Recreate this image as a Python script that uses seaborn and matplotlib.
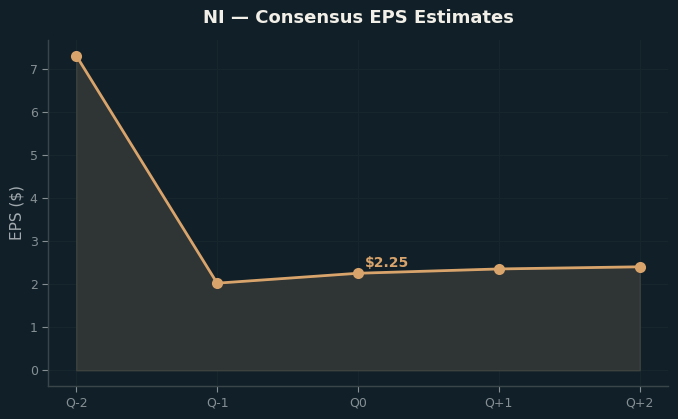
import matplotlib
matplotlib.use("Agg")
import matplotlib.pyplot as plt
import seaborn as sns
import pandas as pd

quarters = ["Q-2", "Q-1", "Q0", "Q+1", "Q+2"]
eps = [7.30, 2.02, 2.25, 2.35, 2.40]
title = "NI — Consensus EPS Estimates"
ylabel = "EPS ($)"
current_label = "$2.25"
current_idx = 2

BG = "#112028"
LINE = "#d9a46c"
FILL = "#2f3434"

sns.set_theme(style="dark")
plt.rcParams['font.family'] = ['DejaVu Sans']

df = pd.DataFrame({"q": quarters, "eps": eps, "x": range(len(quarters))})

fig, ax = plt.subplots(figsize=(6.78, 4.19), dpi=100)
fig.patch.set_facecolor(BG)
ax.set_facecolor(BG)

ax.fill_between(df["x"], df["eps"], 0, color=FILL, alpha=1.0, zorder=1,
                edgecolor="#3d423f", linewidth=1)
sns.lineplot(data=df, x="x", y="eps", ax=ax, color=LINE, linewidth=2,
             marker="o", markersize=8, markeredgewidth=0, zorder=3)

ax.annotate(current_label, (df["x"][current_idx], df["eps"][current_idx]),
            xytext=(5, 2), textcoords="offset points", color=LINE,
            fontsize=10, fontweight="bold", ha="left", va="bottom")

ax.set_xticks(df["x"])
ax.set_xticklabels(quarters)
ax.set_xlim(-0.2, 4.2)
ax.set_ylim(-0.365, 7.67)
ax.set_xlabel("")
ax.set_ylabel(ylabel, color="#a3abb0", fontsize=11)
ax.set_title(title, color="#f2efe8", fontsize=13, fontweight="bold", pad=12)

ax.tick_params(colors="#858f94", labelsize=9, length=4, width=0.8,
               left=True, bottom=True)
ax.grid(True, color="#17262d", linewidth=0.8)
for s in ["top", "right"]:
    ax.spines[s].set_visible(False)
for s in ["left", "bottom"]:
    ax.spines[s].set_visible(True)
    ax.spines[s].set_color("#3a4549")
    ax.spines[s].set_linewidth(1)

fig.subplots_adjust(left=0.071, right=0.985, top=0.905, bottom=0.079)
fig.savefig("out.png", dpi=100, facecolor=BG)
